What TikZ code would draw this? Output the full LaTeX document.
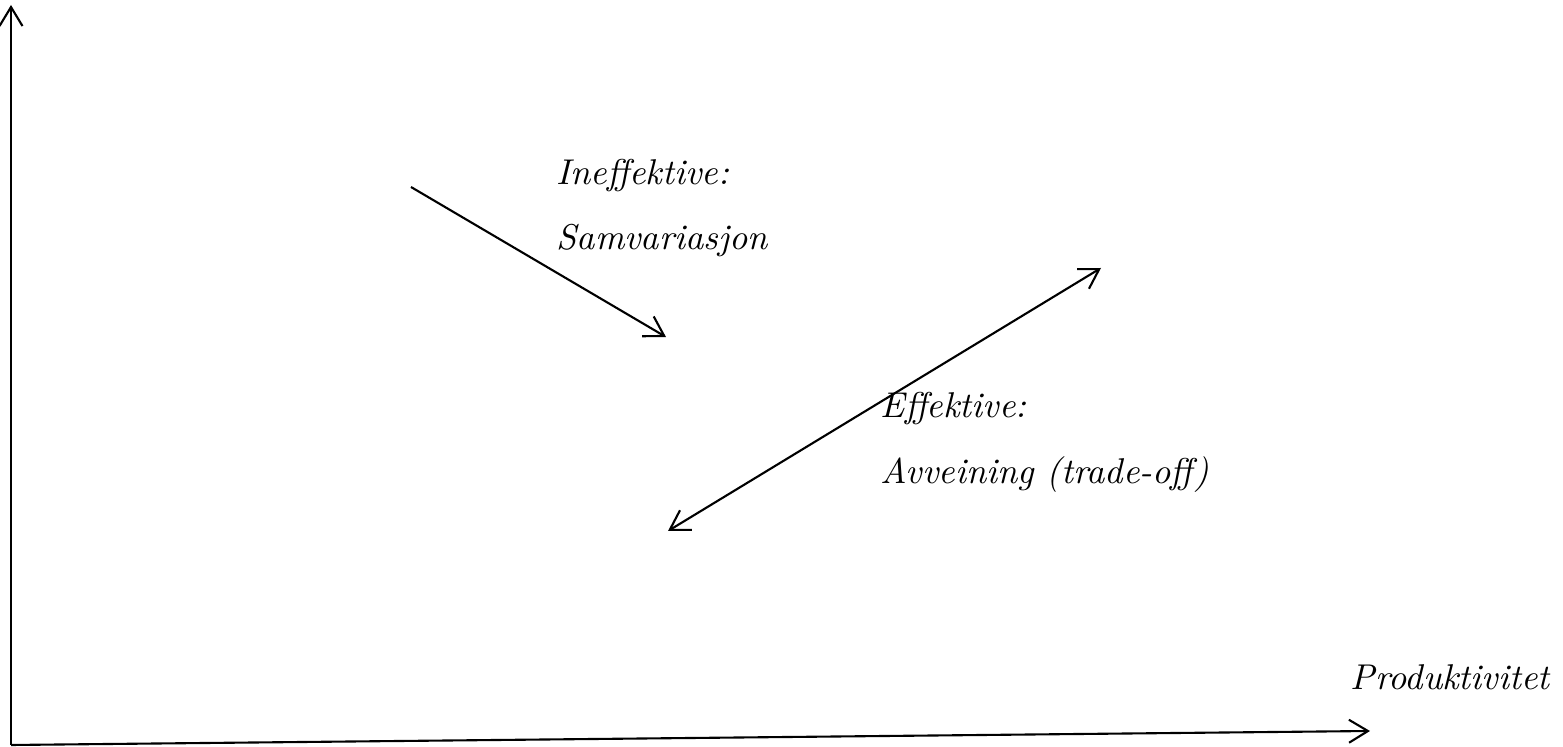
\documentclass[tikz,border=0pt]{standalone}
\usepackage{tikz}
\usetikzlibrary{arrows.meta}
\tikzset{
	barb/.tip={Straight Barb[length=1.9mm, width=2.3mm]},
	axisline/.style={line width=0.6pt, -barb},
	trendline/.style={line width=0.6pt},
	lbl/.style={anchor=base west, inner sep=0pt, font=\fontsize{10.2}{12}\selectfont\itshape}
}

\begin{document}
\begin{tikzpicture}
			%%%%% START %%%%%
			\useasboundingbox (0, 0) rectangle (15.63, 7.47);
			
			\coordinate (origin) at (0.11, 0.02);
			\coordinate (ytop) at (0.11, 7.42);
			\coordinate (xend) at (13.70, 0.16);
			\draw[axisline] (origin) -- (ytop);
			\draw[axisline] (origin) -- (xend);
			
			\node[lbl] (prod) at (13.50, 0.57) {Produktivitet};
			
			\coordinate (ineffA) at (4.11, 5.60);
			\coordinate (ineffB) at (6.66, 4.10);
			\draw[trendline, -barb] (ineffA) -- (ineffB);
			
			\node[lbl] (ineff) at (5.56, 5.62) {Ineffektive:};
			\node[lbl] (samvar) at (5.56, 4.97) {Samvariasjon};
			
			\coordinate (effA) at (6.68, 2.16);
			\coordinate (effB) at (11.01, 4.79);
			\draw[trendline, barb-barb] (effA) -- (effB);
			
			\node[lbl] (eff) at (8.80, 3.29) {Effektive:};
			\node[lbl] (avv) at (8.80, 2.63) {Avveining (trade-off)};
			
			%%%%% END %%%%%
\end{tikzpicture}
\end{document}
